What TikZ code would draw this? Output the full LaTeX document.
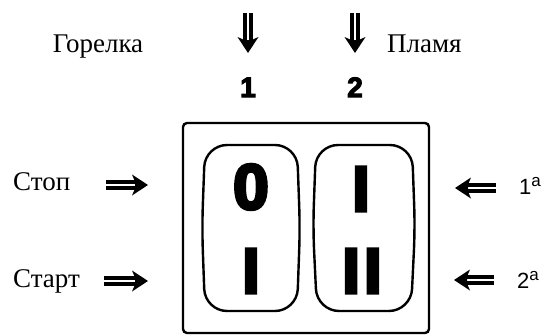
\documentclass[tikz,border=0pt]{standalone}
\usepackage{fontspec}
\setmainfont{Liberation Serif}
\newfontfamily\sansf{Liberation Sans}
\newfontfamily\heavyf{Liberation Sans}[BoldFeatures={FakeBold=4}]
\newfontfamily\symf{Liberation Sans}[BoldFeatures={FakeBold=5}]
\tikzset{
  pics/dblarrow/.style={code={
    \fill (0,-5.4) rectangle ({#1-11},-1.4);
    \fill (0,1.4) rectangle ({#1-11},5.4);
    \fill[line join=round] ({#1-16},-10.5) -- (#1,0) -- ({#1-16},10.5) -- ({#1-13},3.5) -- ({#1-13},-3.5) -- cycle;
  }}
}
\begin{document}
\begin{tikzpicture}[x=1pt,y=-1pt,
  cyr/.style={font=\fontsize{27}{30}\selectfont, inner sep=0pt},
  headnum/.style={font=\heavyf\bfseries\fontsize{28}{30}\selectfont, inner sep=0pt},
  sym/.style={font=\symf\bfseries\fontsize{64}{66}\selectfont, inner sep=0pt},
  ord/.style={font=\sansf\fontsize{22}{24}\selectfont, inner sep=0pt},
  sup/.style={font=\sansf\fontsize{17}{17}\selectfont},
  frame/.style={line width=2.4pt, rounded corners=4pt},
  rocker/.style={line width=2.4pt, rounded corners=22pt},
  ]
\useasboundingbox (0,0) rectangle (549,335);

% frame and rockers
\draw[frame] (183,123) rectangle (429,333);
\draw[rocker] (205,145) -- (297,145) -- (300,228) -- (297,311) -- (205,311) -- (202,228) -- cycle;
\draw[rocker] (316,145) -- (412,145) -- (415,228) -- (411,311) -- (317,311) -- (313,228) -- cycle;

% rocker symbols
\node[sym, anchor=base] (s0) at (251,209) {0};
\node[sym, anchor=base] (s1) at (251,293) {I};
\node[sym, anchor=base] (s2) at (361,211) {I};
\node[sym, anchor=base] (s3) at (362,293) {I\kern4pt I};

% top labels
\node[cyr, anchor=base] (gor) at (98,52) {Горелка};
\node[cyr, anchor=base west] (plam) at (387,52) {Пламя};
\node[headnum, anchor=base] (n1) at (248,97) {1};
\node[headnum, anchor=base] (n2) at (355,97) {2};

% side labels
\node[cyr, anchor=base west] (stop) at (13,190) {Стоп};
\node[cyr, anchor=base west] (start) at (13,287) {Старт};
\node[ord, anchor=base west] (o1) at (519,194) {1\raisebox{0.36em}{\fontsize{17}{17}\selectfont a}};
\node[ord, anchor=base west] (o2) at (517,288) {2\raisebox{0.36em}{\fontsize{17}{17}\selectfont a}};

% arrows
\coordinate (a1) at (248,13);
\coordinate (a2) at (355,13);
\coordinate (a3) at (106,185);
\coordinate (a4) at (104,281);
\coordinate (a5) at (496,188);
\coordinate (a6) at (494,280);
\pic[rotate=-90] at (a1) {dblarrow=40};
\pic[rotate=-90] at (a2) {dblarrow=40};
\pic at (a3) {dblarrow=42};
\pic at (a4) {dblarrow=44};
\pic[rotate=180] at (a5) {dblarrow=41};
\pic[rotate=180] at (a6) {dblarrow=40};
\end{tikzpicture}
\end{document}
